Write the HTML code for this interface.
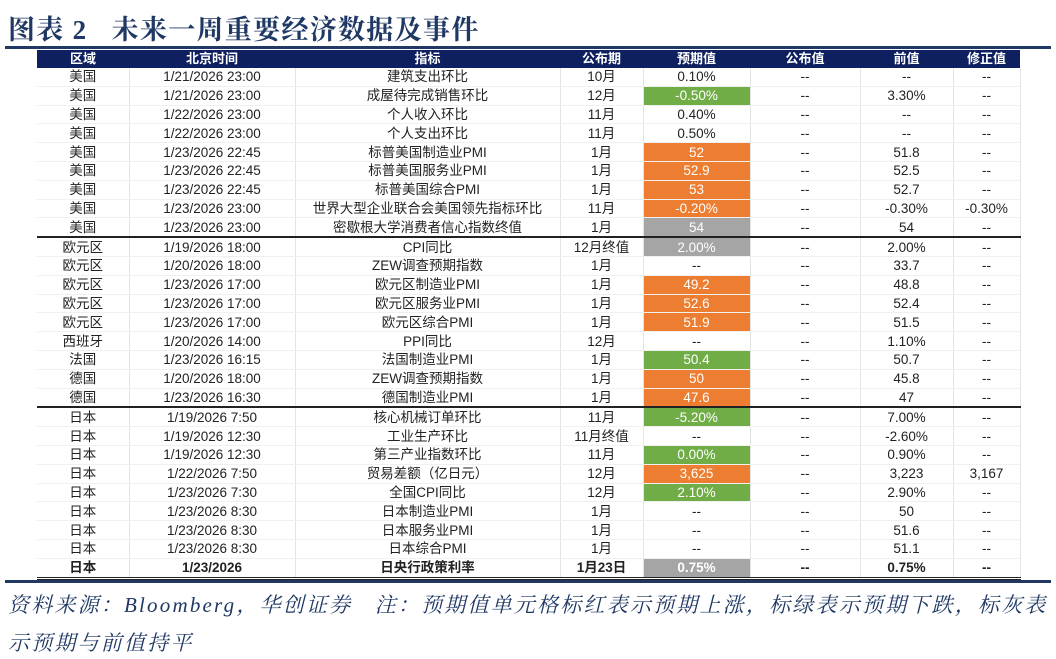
<!DOCTYPE html>
<html><head><meta charset="utf-8"><style>
body{margin:0;width:1056px;height:659px;background:#fff;position:relative;overflow:hidden;font-family:"Liberation Sans","Noto Sans CJK SC",sans-serif;}
.title{position:absolute;left:8px;top:8px;font-family:"Liberation Serif","Noto Serif CJK SC",serif;font-weight:bold;font-size:27px;color:#1f3864;letter-spacing:1.3px;white-space:nowrap;}
.tl{position:absolute;left:5px;width:1046px;top:46px;height:3px;background:#1f3864;}
table{position:absolute;left:37px;top:50px;border-collapse:collapse;table-layout:fixed;width:983px;font-size:13.5px;color:#222;}
td,th{height:17.8px;padding:0;text-align:center;white-space:nowrap;overflow:hidden;line-height:17px;border-right:1px solid #e4e4e4;border-bottom:1px solid #f0f0f0;}
th{background:#0e2060;color:#fff;font-weight:bold;font-size:13px;border:none;height:18px;line-height:18px;}
.o{background:#ed7d31;color:#fff}.g{background:#70ad47;color:#fff}.y{background:#a5a5a5;color:#fff}
tr.sep td{border-bottom:2px solid #222}
tr.b td{font-weight:bold;border-bottom:3px double #222}
.bl{position:absolute;left:5px;width:1046px;top:580px;height:3px;background:#1f3864;}
.ft{position:absolute;left:8px;font-family:"Liberation Serif","Noto Serif CJK SC",serif;font-style:italic;font-size:21px;letter-spacing:2.2px;color:#1f3864;white-space:nowrap;}
</style></head><body>
<div class="title">图表 2&nbsp;&nbsp;&nbsp;未来一周重要经济数据及事件</div>
<div class="tl"></div>
<table>
<colgroup><col style="width:92px"><col style="width:166px"><col style="width:265px"><col style="width:83px"><col style="width:107px"><col style="width:110px"><col style="width:93px"><col style="width:67px"></colgroup>
<tr><th>区域</th><th>北京时间</th><th>指标</th><th>公布期</th><th>预期值</th><th>公布值</th><th>前值</th><th>修正值</th></tr>
<tr><td>美国</td><td>1/21/2026 23:00</td><td>建筑支出环比</td><td>10月</td><td>0.10%</td><td>--</td><td>--</td><td>--</td></tr>
<tr><td>美国</td><td>1/21/2026 23:00</td><td>成屋待完成销售环比</td><td>12月</td><td class="g">-0.50%</td><td>--</td><td>3.30%</td><td>--</td></tr>
<tr><td>美国</td><td>1/22/2026 23:00</td><td>个人收入环比</td><td>11月</td><td>0.40%</td><td>--</td><td>--</td><td>--</td></tr>
<tr><td>美国</td><td>1/22/2026 23:00</td><td>个人支出环比</td><td>11月</td><td>0.50%</td><td>--</td><td>--</td><td>--</td></tr>
<tr><td>美国</td><td>1/23/2026 22:45</td><td>标普美国制造业PMI</td><td>1月</td><td class="o">52</td><td>--</td><td>51.8</td><td>--</td></tr>
<tr><td>美国</td><td>1/23/2026 22:45</td><td>标普美国服务业PMI</td><td>1月</td><td class="o">52.9</td><td>--</td><td>52.5</td><td>--</td></tr>
<tr><td>美国</td><td>1/23/2026 22:45</td><td>标普美国综合PMI</td><td>1月</td><td class="o">53</td><td>--</td><td>52.7</td><td>--</td></tr>
<tr><td>美国</td><td>1/23/2026 23:00</td><td>世界大型企业联合会美国领先指标环比</td><td>11月</td><td class="o">-0.20%</td><td>--</td><td>-0.30%</td><td>-0.30%</td></tr>
<tr class="sep"><td>美国</td><td>1/23/2026 23:00</td><td>密歇根大学消费者信心指数终值</td><td>1月</td><td class="y">54</td><td>--</td><td>54</td><td>--</td></tr>
<tr><td>欧元区</td><td>1/19/2026 18:00</td><td>CPI同比</td><td>12月终值</td><td class="y">2.00%</td><td>--</td><td>2.00%</td><td>--</td></tr>
<tr><td>欧元区</td><td>1/20/2026 18:00</td><td>ZEW调查预期指数</td><td>1月</td><td>--</td><td>--</td><td>33.7</td><td>--</td></tr>
<tr><td>欧元区</td><td>1/23/2026 17:00</td><td>欧元区制造业PMI</td><td>1月</td><td class="o">49.2</td><td>--</td><td>48.8</td><td>--</td></tr>
<tr><td>欧元区</td><td>1/23/2026 17:00</td><td>欧元区服务业PMI</td><td>1月</td><td class="o">52.6</td><td>--</td><td>52.4</td><td>--</td></tr>
<tr><td>欧元区</td><td>1/23/2026 17:00</td><td>欧元区综合PMI</td><td>1月</td><td class="o">51.9</td><td>--</td><td>51.5</td><td>--</td></tr>
<tr><td>西班牙</td><td>1/20/2026 14:00</td><td>PPI同比</td><td>12月</td><td>--</td><td>--</td><td>1.10%</td><td>--</td></tr>
<tr><td>法国</td><td>1/23/2026 16:15</td><td>法国制造业PMI</td><td>1月</td><td class="g">50.4</td><td>--</td><td>50.7</td><td>--</td></tr>
<tr><td>德国</td><td>1/20/2026 18:00</td><td>ZEW调查预期指数</td><td>1月</td><td class="o">50</td><td>--</td><td>45.8</td><td>--</td></tr>
<tr class="sep"><td>德国</td><td>1/23/2026 16:30</td><td>德国制造业PMI</td><td>1月</td><td class="o">47.6</td><td>--</td><td>47</td><td>--</td></tr>
<tr><td>日本</td><td>1/19/2026 7:50</td><td>核心机械订单环比</td><td>11月</td><td class="g">-5.20%</td><td>--</td><td>7.00%</td><td>--</td></tr>
<tr><td>日本</td><td>1/19/2026 12:30</td><td>工业生产环比</td><td>11月终值</td><td>--</td><td>--</td><td>-2.60%</td><td>--</td></tr>
<tr><td>日本</td><td>1/19/2026 12:30</td><td>第三产业指数环比</td><td>11月</td><td class="g">0.00%</td><td>--</td><td>0.90%</td><td>--</td></tr>
<tr><td>日本</td><td>1/22/2026 7:50</td><td>贸易差额（亿日元）</td><td>12月</td><td class="o">3,625</td><td>--</td><td>3,223</td><td>3,167</td></tr>
<tr><td>日本</td><td>1/23/2026 7:30</td><td>全国CPI同比</td><td>12月</td><td class="g">2.10%</td><td>--</td><td>2.90%</td><td>--</td></tr>
<tr><td>日本</td><td>1/23/2026 8:30</td><td>日本制造业PMI</td><td>1月</td><td>--</td><td>--</td><td>50</td><td>--</td></tr>
<tr><td>日本</td><td>1/23/2026 8:30</td><td>日本服务业PMI</td><td>1月</td><td>--</td><td>--</td><td>51.6</td><td>--</td></tr>
<tr><td>日本</td><td>1/23/2026 8:30</td><td>日本综合PMI</td><td>1月</td><td>--</td><td>--</td><td>51.1</td><td>--</td></tr>
<tr class="b"><td>日本</td><td>1/23/2026</td><td>日央行政策利率</td><td>1月23日</td><td class="y">0.75%</td><td>--</td><td>0.75%</td><td>--</td></tr>
</table>
<div class="bl"></div>
<div class="ft" style="top:589px">资料来源：Bloomberg，华创证券&nbsp;&nbsp;&nbsp;注：预期值单元格标红表示预期上涨，标绿表示预期下跌，标灰表</div>
<div class="ft" style="top:627px">示预期与前值持平</div>
</body></html>
